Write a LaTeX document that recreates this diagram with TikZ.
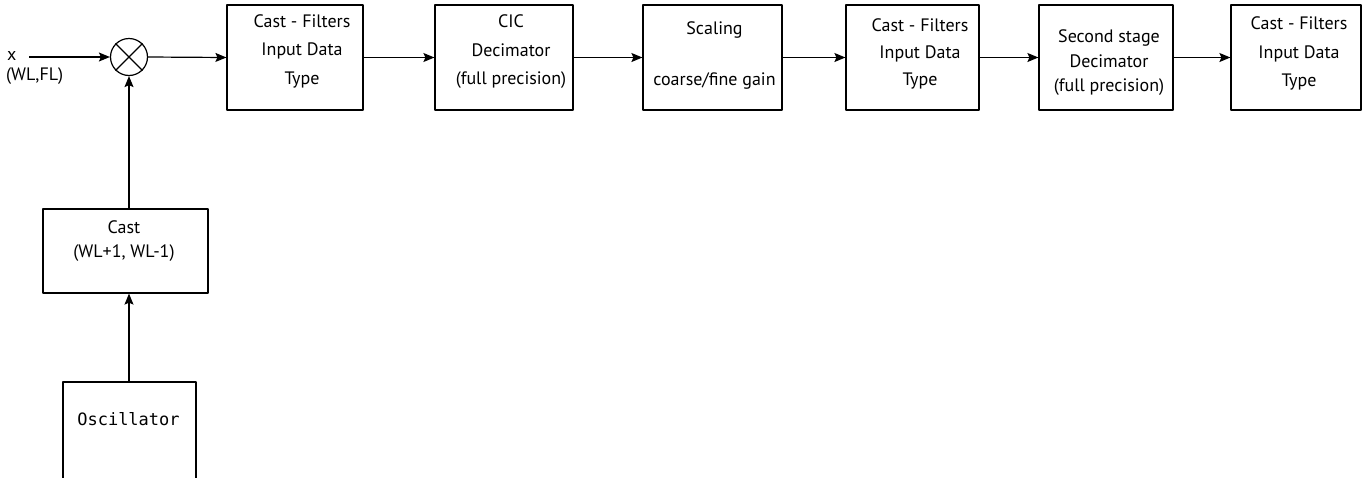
\documentclass[tikz,border=0pt]{standalone}
\usepackage{fontspec}
\setmainfont{PT Sans}
\setmonofont{DejaVu Sans Mono}
\usetikzlibrary{arrows.meta}
\tikzset{
  blk/.style={draw, line width=\ddcLineWidth, minimum width=#1, minimum height=105pt, inner sep=0pt},
  blk/.default=136pt,
  lbl/.style={font=\fontsize{18}{28.5}\selectfont, align=center, inner sep=0pt},
  sig/.style={line width=\ddcLineWidth, -{Stealth[length=11pt,width=9pt,inset=2pt]}},
}
\begin{document}
\begin{tikzpicture}
% DDC front end: mixer, cast, CIC, scaling, second stage
\providecommand{\ddcLineWidth}{1.2pt}
\begin{scope}[x=1pt, y=-1pt, line join=round]
  \useasboundingbox (0,0) rectangle (1362,477);
  \clip (0,0) rectangle (1362,477);
  % Input and mixer
  \node[lbl, anchor=west] (xin) at (7,56) {x};
  \node[lbl, anchor=west] (xfmt) at (6,76) {(WL,FL)};
  \coordinate (xsrc) at (29,57);
  \node[draw, circle, line width=\ddcLineWidth, minimum size=37pt, inner sep=0pt] (mix) at (129,57) {};
  \draw[line width=\ddcLineWidth] (mix.north west) -- (mix.south east);
  \draw[line width=\ddcLineWidth] (mix.south west) -- (mix.north east);
  % Processing chain
  \node[blk=136pt] (f1) at (295,57.5) {};
  \node[blk=138pt] (cic) at (504,57.5) {};
  \node[blk=139pt] (scl) at (712.5,57.5) {};
  \node[blk=133pt] (f2) at (912.5,57.5) {};
  \node[blk=134pt] (dec2) at (1106,57.5) {};
  \node[blk=130pt] (f3) at (1296,57.5) {};
  \node[lbl] (f1txt) at (302,51) {Cast - Filters\\Input Data\\Type};
  \node[lbl] (cictxt) at (511,52) {CIC\\Decimator\\(full precision)};
  \node[lbl, font=\fontsize{18}{51}\selectfont] (scltxt) at (714.5,55) {Scaling\\coarse/fine gain};
  \node[lbl, font=\fontsize{18}{27}\selectfont] (f2txt) at (920,53.5) {Cast - Filters\\Input Data\\Type};
  \node[lbl, font=\fontsize{18}{24.5}\selectfont] (dec2txt) at (1109,63) {Second stage\\Decimator\\(full precision)};
  \node[lbl] (f3txt) at (1299,53.5) {Cast - Filters\\Input Data\\Type};
  % Oscillator branch
  \node[blk=165pt, minimum height=84pt] (cast) at (125.5,251) {};
  \node[lbl, font=\fontsize{18}{24}\selectfont] (casttxt) at (124,241.5) {Cast\\(WL+1, WL-1)};
  \node[blk=133pt, minimum height=130pt] (osc) at (129.5,447) {};
  \node[lbl, font=\ttfamily\fontsize{17}{20}\selectfont] (osctxt) at (128.5,419) {Oscillator};
  % Connectors
  \draw[sig] (xsrc) -- (mix.west);
  \draw[sig] (mix.east) -- (f1.west);
  \draw[sig] (f1.east) -- (cic.west);
  \draw[sig] (cic.east) -- (scl.west);
  \draw[sig] (scl.east) -- (f2.west);
  \draw[sig] (f2.east) -- (dec2.west);
  \draw[sig] (dec2.east) -- (f3.west);
  \draw[sig] (osc.north -| mix.south) -- (cast.south -| mix.south);
  \draw[sig] (cast.north -| mix.south) -- (mix.south);
\end{scope}
\end{tikzpicture}
\end{document}
